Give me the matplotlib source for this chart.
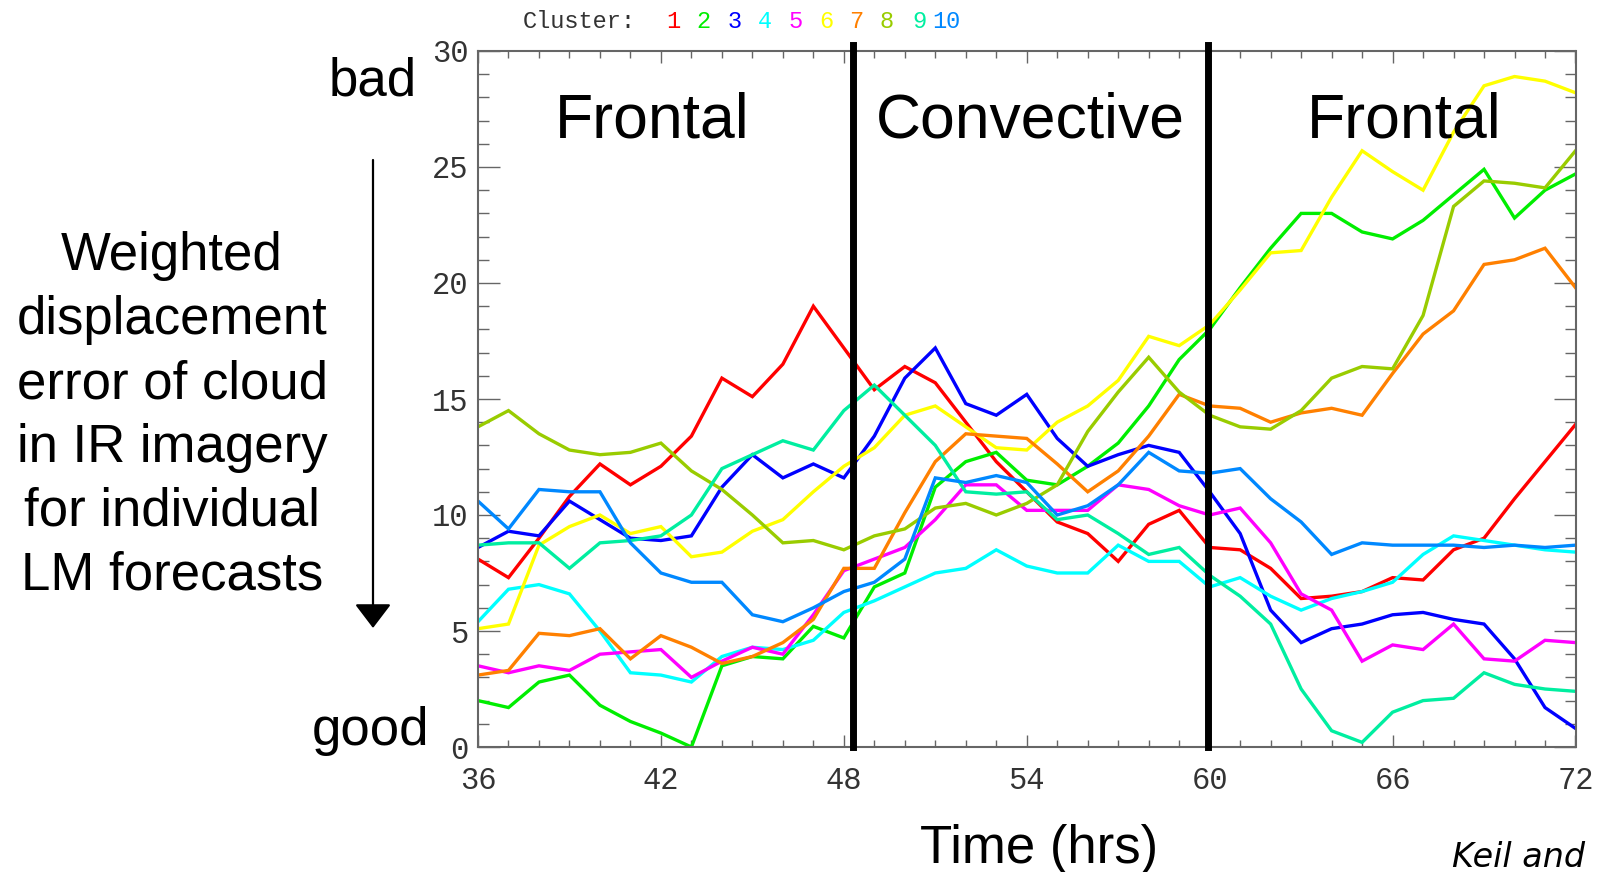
import numpy as np
import matplotlib
matplotlib.use("Agg")
import matplotlib.pyplot as plt
from matplotlib.ticker import MultipleLocator

# forecast hours (one value per hour)
hours = np.arange(36, 73)

# displacement error per cluster
c1 = [8.1, 7.3, 9.0, 10.8, 12.2, 11.3, 12.1, 13.4, 15.9, 15.1, 16.5, 19.0, 17.2, 15.4, 16.4, 15.7, 14.0, 12.3, 11.0,
      9.7, 9.2, 8.0, 9.6, 10.2, 8.6, 8.5, 7.7, 6.4, 6.5, 6.7, 7.3, 7.2, 8.5, 9.0, 10.7, 12.3, 13.9]
c2 = [2.0, 1.7, 2.8, 3.1, 1.8, 1.1, 0.6, 0.0, 3.5, 3.9, 3.8, 5.2, 4.7, 6.9, 7.5, 11.2, 12.3, 12.7, 11.5,
      11.3, 12.1, 13.1, 14.7, 16.7, 18.0, 19.8, 21.5, 23.0, 23.0, 22.2, 21.9, 22.7, 23.8, 24.9, 22.8, 24.0, 24.7]
c3 = [8.6, 9.3, 9.1, 10.6, 9.8, 9.0, 8.9, 9.1, 11.2, 12.6, 11.6, 12.2, 11.6, 13.4, 15.9, 17.2, 14.8, 14.3, 15.2,
      13.3, 12.1, 12.6, 13.0, 12.7, 11.0, 9.2, 5.9, 4.5, 5.1, 5.3, 5.7, 5.8, 5.5, 5.3, 3.8, 1.7, 0.8]
c4 = [5.4, 6.8, 7.0, 6.6, 5.0, 3.2, 3.1, 2.8, 3.9, 4.3, 4.2, 4.6, 5.8, 6.3, 6.9, 7.5, 7.7, 8.5, 7.8,
      7.5, 7.5, 8.7, 8.0, 8.0, 6.9, 7.3, 6.5, 5.9, 6.4, 6.7, 7.1, 8.3, 9.1, 8.9, 8.7, 8.5, 8.4]
c5 = [3.5, 3.2, 3.5, 3.3, 4.0, 4.1, 4.2, 3.0, 3.7, 4.3, 4.0, 5.7, 7.6, 8.1, 8.6, 9.8, 11.3, 11.3, 10.2,
      10.2, 10.2, 11.3, 11.1, 10.4, 10.0, 10.3, 8.8, 6.6, 5.9, 3.7, 4.4, 4.2, 5.3, 3.8, 3.7, 4.6, 4.5]
c6 = [5.1, 5.3, 8.7, 9.5, 10.0, 9.2, 9.5, 8.2, 8.4, 9.3, 9.8, 11.0, 12.1, 12.9, 14.3, 14.7, 13.8, 12.9, 12.8,
      14.0, 14.7, 15.8, 17.7, 17.3, 18.2, 19.7, 21.3, 21.4, 23.7, 25.7, 24.8, 24.0, 26.5, 28.5, 28.9, 28.7, 28.2]
c7 = [3.1, 3.3, 4.9, 4.8, 5.1, 3.8, 4.8, 4.3, 3.6, 3.9, 4.5, 5.5, 7.7, 7.7, 10.1, 12.3, 13.5, 13.4, 13.3,
      12.2, 11.0, 11.9, 13.4, 15.2, 14.7, 14.6, 14.0, 14.4, 14.6, 14.3, 16.1, 17.8, 18.8, 20.8, 21.0, 21.5, 19.8]
c8 = [13.8, 14.5, 13.5, 12.8, 12.6, 12.7, 13.1, 11.9, 11.1, 10.0, 8.8, 8.9, 8.5, 9.1, 9.4, 10.3, 10.5, 10.0, 10.5,
      11.3, 13.6, 15.3, 16.8, 15.3, 14.3, 13.8, 13.7, 14.5, 15.9, 16.4, 16.3, 18.6, 23.3, 24.4, 24.3, 24.1, 25.7]
c9 = [8.7, 8.8, 8.8, 7.7, 8.8, 8.9, 9.1, 10.0, 12.0, 12.6, 13.2, 12.8, 14.5, 15.6, 14.3, 13.0, 11.0, 10.9, 11.0,
      9.8, 10.0, 9.2, 8.3, 8.6, 7.4, 6.5, 5.3, 2.5, 0.7, 0.2, 1.5, 2.0, 2.1, 3.2, 2.7, 2.5, 2.4]
c10 = [10.6, 9.4, 11.1, 11.0, 11.0, 8.8, 7.5, 7.1, 7.1, 5.7, 5.4, 6.0, 6.7, 7.1, 8.1, 11.6, 11.4, 11.7, 11.4,
       10.0, 10.4, 11.3, 12.7, 11.9, 11.8, 12.0, 10.7, 9.7, 8.3, 8.8, 8.7, 8.7, 8.7, 8.6, 8.7, 8.6, 8.7]

clusters = [c1, c2, c3, c4, c5, c6, c7, c8, c9, c10]
cluster_names = ["1", "2", "3", "4", "5", "6", "7", "8", "9", "10"]
colors = ["#ff0000", "#00ee00", "#0000ff", "#00ffff", "#ff00ff",
          "#ffff00", "#ff8000", "#99cc00", "#00eea0", "#0088ff"]

# regime boundaries and labels
regime_lines = [48.3, 59.95]
regimes = ["Frontal", "Convective", "Frontal"]

W, H = 1601, 872


def fx(x):
    return x / W


def fy(y):
    return 1 - y / H


fig = plt.figure(figsize=(W / 100, H / 100), dpi=100)
ax = fig.add_axes([fx(478), fy(747), fx(1575.5) - fx(478), fy(51) - fy(747)])

for vals, col in zip(clusters, colors):
    ax.plot(hours, vals, color=col, lw=2.4, solid_joinstyle="miter")

for xv in regime_lines:
    ax.axvline(xv, ymin=0, ymax=1.008, color="black", lw=5, clip_on=False, zorder=5)

ax.set_xlim(36, 72)
ax.set_ylim(0, 30)
ax.xaxis.set_major_locator(MultipleLocator(6))
ax.xaxis.set_minor_locator(MultipleLocator(1))
ax.yaxis.set_major_locator(MultipleLocator(5))
ax.yaxis.set_minor_locator(MultipleLocator(1))

mono = "Liberation Mono"
ax.tick_params(which="both", direction="in", top=True, right=True, color="#666666", width=1)
ax.tick_params(axis="x", which="major", length=8.6, pad=14, labelsize=22, labelcolor="#333333")
ax.tick_params(axis="x", which="minor", length=5)
ax.tick_params(axis="y", which="major", length=15.8, pad=7, labelsize=22, labelcolor="#333333")
ax.tick_params(axis="y", which="minor", length=7.9)
for lab in ax.get_xticklabels() + ax.get_yticklabels():
    lab.set_fontfamily(mono)
for sp in ax.spines.values():
    sp.set_color("#666666")
    sp.set_linewidth(1.5)

sans = "Liberation Sans"
# regime labels
for xp, name in zip([652, 1030, 1404], regimes):
    fig.text(fx(xp), fy(138), name, ha="center", va="baseline", fontsize=45, family=sans)

# cluster legend on top
fig.text(fx(523), fy(28), "Cluster:", ha="left", va="baseline", fontsize=17, family=mono, color="#333333")
leg_x = [673, 703, 735, 765, 796, 826, 856, 887, 919, 946]
for xp, name, col in zip(leg_x, cluster_names, colors):
    fig.text(fx(xp), fy(28), name, ha="center", va="baseline", fontsize=17, family=mono, color=col)

# left annotation
fig.text(fx(373), fy(95), "bad", ha="center", va="baseline", fontsize=38, family=sans)
fig.text(fx(370), fy(745), "good", ha="center", va="baseline", fontsize=38, family=sans)
ylab = ["Weighted", "displacement", "error of cloud", "in IR imagery", "for individual", "LM forecasts"]
for i, line in enumerate(ylab):
    fig.text(fx(172), fy(270 + 64 * i), line, ha="center", va="baseline", fontsize=38, family=sans)

ax.annotate("", xy=(373, H - 628), xytext=(373, H - 160),
            xycoords="figure pixels", textcoords="figure pixels",
            arrowprops=dict(arrowstyle="-|>,head_length=0.5,head_width=0.38", lw=1.6,
                            color="black", mutation_scale=30, shrinkA=0, shrinkB=0))

fig.text(fx(1039), fy(863), "Time (hrs)", ha="center", va="baseline", fontsize=38, family=sans)
fig.text(fx(1452), fy(867), "Keil and", ha="left", va="baseline", fontsize=24,
         family="DejaVu Sans", style="italic")

fig.savefig("out.png", dpi=100)
